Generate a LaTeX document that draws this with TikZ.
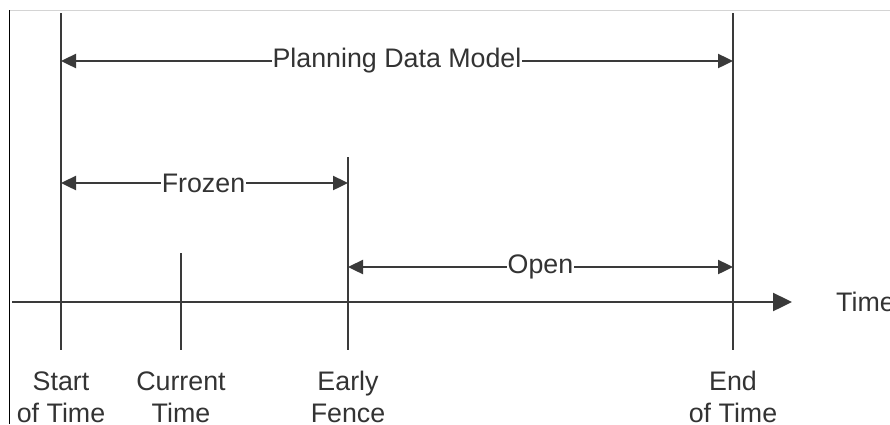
\documentclass[tikz,border=0pt]{standalone}
\usepackage{fontspec}
\setmainfont{Liberation Sans}
\usetikzlibrary{arrows.meta}
\definecolor{linegray}{HTML}{3A3A3A}
\definecolor{textgray}{HTML}{333333}
\definecolor{framegray}{HTML}{D4D4D4}

\begin{document}
\begin{tikzpicture}[x=1pt,y=-1pt,
    tick/.style={draw=linegray,line width=2.4pt},
    span/.style={draw=linegray,line width=2.4pt,
      {Triangle[length=15pt,width=14pt]}-{Triangle[length=15pt,width=14pt]}},
    lbl/.style={fill=white,inner sep=1pt,text=textgray,font=\fontsize{26.8}{30}\selectfont},
    tlbl/.style={align=center,inner sep=0pt,text=textgray,font=\fontsize{26.8}{32}\selectfont}]
      \useasboundingbox (0,0) rectangle (890,424);
      \draw[framegray,line width=1pt] (9,10.5) -- (890,10.5);
      \draw[black,line width=1.2pt] (9.3,10) -- (9.3,424);
      \coordinate (start top) at (61,13);
      \coordinate (start bot) at (61,350);
      \coordinate (cur top) at (181,253);
      \coordinate (cur bot) at (181,350);
      \coordinate (fence top) at (348,157);
      \coordinate (fence bot) at (348,350);
      \coordinate (end top) at (733,13);
      \coordinate (end bot) at (733,350);
      \coordinate (axis l) at (12,302);
      \coordinate (axis r) at (792,302);
      \coordinate (pdm) at (0,61);
      \coordinate (frz) at (0,183);
      \coordinate (opn) at (0,267);
      \draw[tick] (start top) -- (start bot);
      \draw[tick] (cur top) -- (cur bot);
      \draw[tick] (fence top) -- (fence bot);
      \draw[tick] (end top) -- (end bot);
      \draw[tick,-{Triangle[length=19pt,width=18pt]}] (axis l) -- (axis r);
      \draw[span] (start top |- pdm) -- (end top |- pdm)
        node[lbl,midway] (pdm label) {Planning Data Model};
      \draw[span] (start top |- frz) -- (fence top |- frz)
        node[lbl,midway,xshift=-1pt] (frz label) {Frozen};
      \draw[span] (fence top |- opn) -- (end top |- opn)
        node[lbl,midway] (opn label) {Open};
      \node[tlbl,anchor=west] (time) at (836,302) {Time};
      \node[tlbl,anchor=base] (start) at (61,422) {Start\\of Time};
      \node[tlbl,anchor=base] (cur) at (181,422) {Current\\Time};
      \node[tlbl,anchor=base] (fence) at (348,422) {Early\\Fence};
      \node[tlbl,anchor=base] (end) at (733,422) {End\\of Time};
    \end{tikzpicture}
\end{document}
